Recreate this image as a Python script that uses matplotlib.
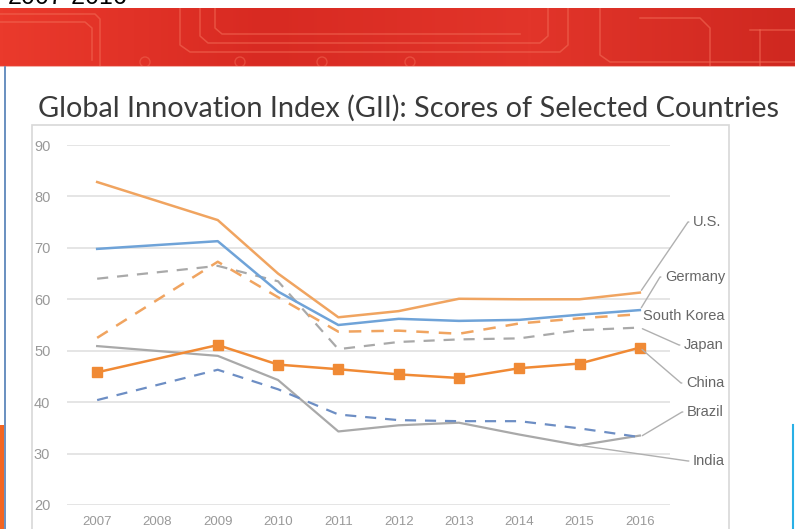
import numpy as np
import matplotlib
matplotlib.use("Agg")
import matplotlib.pyplot as plt
from matplotlib.patches import Rectangle, Circle
from matplotlib.lines import Line2D
from matplotlib.colors import LinearSegmentedColormap

# --- data (2008 has no point in the source chart) ---
years = [2007, 2009, 2010, 2011, 2012, 2013, 2014, 2015, 2016]
tick_years = list(range(2007, 2017))

us = [82.8, 75.4, 65.0, 56.5, 57.7, 60.1, 60.0, 60.0, 61.3]
germany = [69.8, 71.3, 61.5, 55.0, 56.2, 55.8, 56.0, 57.0, 57.9]
south_korea = [52.5, 67.3, 60.4, 53.7, 53.9, 53.3, 55.3, 56.3, 57.1]
japan = [64.0, 66.5, 63.5, 50.3, 51.7, 52.2, 52.4, 54.0, 54.5]
china = [45.8, 51.1, 47.3, 46.4, 45.4, 44.7, 46.6, 47.5, 50.6]
brazil = [40.4, 46.3, 42.5, 37.6, 36.5, 36.3, 36.3, 34.9, 33.2]
india = [50.9, 49.0, 44.3, 34.3, 35.5, 36.0, 33.7, 31.6, 33.5]

yticks = [20, 30, 40, 50, 60, 70, 80, 90]

W, H = 795, 529
fig = plt.figure(figsize=(W / 100, H / 100), dpi=100)
fig.patch.set_facecolor("white")


def fpx(x, y):
    # pixel position (from top-left) -> figure fraction
    return (x / W, 1 - y / H)


# --- red banner with circuit pattern ---
bax = fig.add_axes([0, 1 - 67 / H, 1, 59 / H])
bax.set_xlim(0, W)
bax.set_ylim(67, 8)
bax.axis("off")
grad = np.linspace(0, 1, 256)[None, :]
red_cmap = LinearSegmentedColormap.from_list("banner", ["#ea3a2c", "#d82a22", "#e2352a", "#cf2820"])
bax.imshow(grad, cmap=red_cmap, aspect="auto", extent=[0, W, 67, 8])
trace = dict(color="#f26a55", lw=1.1, alpha=0.6)
bax.plot([0, 95, 100, 100], [14, 14, 19, 67], **trace)
bax.plot([0, 85, 92, 92], [22, 22, 28, 60], **trace)
bax.plot([180, 180, 190, 560, 568, 568], [8, 45, 52, 52, 45, 8], **trace)
bax.plot([200, 200, 208, 540, 548, 548], [8, 36, 43, 43, 36, 8], **trace)
bax.plot([215, 215, 222, 520], [8, 28, 34, 34], **trace)
bax.plot([600, 600, 610, 795], [8, 55, 62, 62], **trace)
bax.plot([640, 700, 710, 710], [18, 18, 28, 67], **trace)
bax.plot([750, 795], [30, 30], **trace)
bax.plot([760, 760], [30, 67], **trace)
for cx in [145, 240, 322, 410]:
    bax.add_patch(Circle((cx, 62), 5, fill=False, ec="#f26a55", lw=1.0, alpha=0.5))
bax.plot([0, W], [66.5, 66.5], color="#f4b0a8", lw=1.5)

# cut-off heading above the banner (only its lower edge shows in the slide)
fig.text(8 / W, 1 - 4 / H, "2007-2016", fontsize=18, family="Liberation Sans",
         color="black", va="baseline", ha="left")

# slide decorations
fig.add_artist(Line2D([5 / W, 5 / W], [0, 1 - 67 / H], color="#4f7db5", lw=1.2))
fig.add_artist(Rectangle((0, 0), 4 / W, 1 - 425 / H, color="#f26522", lw=0))
fig.add_artist(Line2D([793 / W, 793 / W], [0, 1 - 425 / H], color="#29b0e6", lw=1.5))
fig.add_artist(Rectangle(fpx(32, 540), (729 - 32) / W, (540 - 125) / H,
                         fill=False, ec="#d8d8d8", lw=1.2))

fig.text(38 / W, 1 - 117 / H, "Global Innovation Index (GII): Scores of Selected Countries",
         fontsize=20.8, family="Lato", color="#3a3a3a", va="baseline", ha="left")

# --- chart ---
ax = fig.add_axes([67 / W, 1 - 505 / H, (670 - 67) / W, (505 - 145) / H])
ax.set_xlim(2006.5, 2016.5)
ax.set_ylim(20, 90)
ax.set_yticks(yticks)
ax.set_xticks(tick_years)
ax.grid(axis="y", color="#e3e3e3", lw=1.3)
ax.set_axisbelow(True)
for s in ax.spines.values():
    s.set_visible(False)
ax.tick_params(length=0, labelcolor="#999999")
ax.tick_params(axis="y", pad=12, labelsize=10.5)
ax.tick_params(axis="x", pad=8, labelsize=9.5)
for lab in ax.get_xticklabels() + ax.get_yticklabels():
    lab.set_family("Liberation Sans")

orange = "#f0a460"
blue = "#6fa3d8"
gray = "#a9a9a9"
ax.plot(years, india, color=gray, lw=1.6)
ax.plot(years, brazil, color="#6d8ec4", lw=1.6, ls=(0, (5, 4)))
ax.plot(years, japan, color=gray, lw=1.6, ls=(0, (5, 4)))
ax.plot(years, south_korea, color=orange, lw=1.8, ls=(0, (5, 4)))
ax.plot(years, germany, color=blue, lw=1.8)
ax.plot(years, us, color=orange, lw=1.8)
ax.plot(years, china, color="#f08a35", lw=1.8, marker="s", ms=6.5)

# --- labels with leader lines ---
labels = [
    ("U.S.", 2016, us[-1], 693, 222),
    ("Germany", 2016, germany[-1], 665, 277),
    ("South Korea", 2016, south_korea[-1], 643, 316),
    ("Japan", 2016, japan[-1], 684, 345),
    ("China", 2016, china[-1], 686, 383),
    ("Brazil", 2016, brazil[-1], 687, 412),
    ("India", 2015, india[-2], 693, 461),
]
for name, xv, yv, lx, ly in labels:
    ap = None
    if name != "South Korea":
        ap = dict(arrowstyle="-", color="#b0b0b0", lw=1.0, shrinkA=1, shrinkB=2,
                  relpos=(0, 0.5),
                  connectionstyle="arc,angleA=180,armA=5,angleB=0,armB=0,rad=0")
    ax.annotate(name, xy=(xv, yv), xycoords="data", xytext=fpx(lx, ly),
                textcoords="figure fraction", ha="left", va="center",
                fontsize=10.5, family="Liberation Sans", color="#666666",
                arrowprops=ap, annotation_clip=False)

fig.savefig("out.png", dpi=100)
